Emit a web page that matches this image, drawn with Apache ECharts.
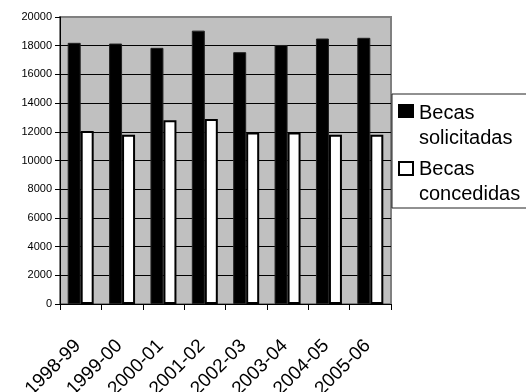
<!DOCTYPE html>
<html>
<head>
<meta charset="utf-8">
<script src="https://cdn.jsdelivr.net/npm/echarts@6/dist/echarts.min.js"></script>
<style>html,body{margin:0;padding:0;background:#fff;}#c{width:526px;height:392px;}</style>
</head>
<body>
<div id="c"></div>
<script>
var categories = ['1998-99','1999-00','2000-01','2001-02','2002-03','2003-04','2004-05','2005-06'];
var solicitadas = [18200, 18150, 17850, 19050, 17550, 18050, 18500, 18550];
var concedidas = [12050, 11800, 12800, 12900, 11950, 11950, 11800, 11800];
var seriesNames = ['Becas solicitadas', 'Becas concedidas'];
var legendLines = [['Becas', 'solicitadas'], ['Becas', 'concedidas']];
var yMin = 0, yMax = 20000, yStep = 2000;

var FONT = 'Liberation Sans, Arial, sans-serif';
var chart = echarts.init(document.getElementById('c'), null, {renderer: 'canvas'});
chart.setOption({
  animation: false,
  backgroundColor: '#fff',
  grid: {left: 60, right: 135, top: 17, bottom: 88, containLabel: false, outerBoundsMode: 'none',
         show: true, backgroundColor: '#c0c0c0', borderColor: '#808080', borderWidth: 2},
  xAxis: {
    type: 'category', data: categories, boundaryGap: true,
    axisLine: {lineStyle: {color: '#000', width: 1}},
    axisTick: {show: true, length: 6, lineStyle: {color: '#000'}},
    axisLabel: {rotate: 45, interval: 0, margin: 36, color: '#000', fontSize: 19, fontFamily: FONT, padding: [0, 4, 8, 0]}
  },
  yAxis: {
    type: 'value', min: yMin, max: yMax, interval: yStep,
    axisLine: {show: true, lineStyle: {color: '#000', width: 1}},
    axisTick: {show: true, length: 5, lineStyle: {color: '#000'}},
    axisLabel: {margin: 8, color: '#000', fontSize: 11, fontFamily: FONT, formatter: function (v) { return String(v); }},
    splitLine: {show: true, showMaxLine: false, lineStyle: {color: '#000', width: 1}}
  },
  series: [
    {name: seriesNames[0], type: 'bar', data: solicitadas, barWidth: 13, barGap: '0%',
     itemStyle: {color: '#000', borderColor: '#222', borderWidth: 1}},
    {name: seriesNames[1], type: 'bar', data: concedidas, barWidth: 13,
     itemStyle: {color: '#fff', borderColor: '#000', borderWidth: 2}}
  ],
  graphic: [
    {type: 'rect', shape: {x: 392, y: 94, width: 200, height: 114}, style: {fill: '#fff', stroke: '#222', lineWidth: 1}},
    {type: 'rect', shape: {x: 398, y: 104, width: 16, height: 14}, style: {fill: '#000'}},
    {type: 'text', x: 419, y: 100.5, style: {text: legendLines[0].join('\n'), font: '20px ' + FONT, lineHeight: 25, fill: '#000', verticalAlign: 'top'}},
    {type: 'rect', shape: {x: 399, y: 162, width: 14, height: 13}, style: {fill: '#fff', stroke: '#000', lineWidth: 2}},
    {type: 'text', x: 419, y: 157, style: {text: legendLines[1].join('\n'), font: '20px ' + FONT, lineHeight: 25, fill: '#000', verticalAlign: 'top'}}
  ]
});
</script>
</body>
</html>
